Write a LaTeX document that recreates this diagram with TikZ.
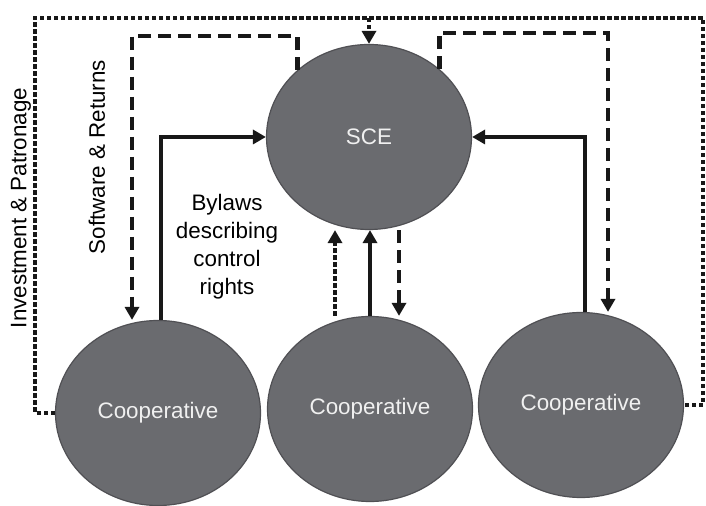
\documentclass[tikz,border=0pt]{standalone}
\usepackage{fontspec}
\setmainfont{Liberation Sans}
\usetikzlibrary{arrows.meta,shapes.geometric}

\definecolor{coopgray}{RGB}{106,107,111}
\definecolor{rimgray}{RGB}{80,80,84}
\definecolor{inkblack}{RGB}{24,24,24}

\begin{document}
\begin{tikzpicture}[x=0.5pt,y=-0.5pt,
  actor/.style={ellipse,draw=rimgray,line width=0.6pt,fill=coopgray,
    text=white!94!black,minimum width=102.5pt,minimum height=92.5pt,
    inner sep=0pt,font=\fontsize{11.2}{14}\selectfont},
  flow/.style={draw=inkblack,line width=2.3pt,-{Triangle[width=7pt,length=6.5pt]}},
  dashflow/.style={flow,dash pattern=on 6.5pt off 3.5pt},
  dotflow/.style={flow,dash pattern=on 2.2pt off 1.3pt},
  caption/.style={font=\fontsize{11.2}{14}\selectfont,align=center}]

\useasboundingbox (0,0) rectangle (706,506);

\node[actor] (sce) at (369,137) {SCE};
\node[actor] (coopL) at (158,413) {Cooperative};
\node[actor] (coopM) at (370,409) {Cooperative};
\node[actor] (coopR) at (581,405) {Cooperative};

\coordinate (outerL) at (35,18);
\coordinate (outerR) at (703,18);
\coordinate (retL) at (132,36);
\coordinate (retR) at (608,33);
\coordinate (upM) at (335,0);
\coordinate (downM) at (399,0);

% investment and patronage
\draw[dotflow,-] (coopL.west) -| (outerL) -- (outerR) |- (coopR.east);
\draw[dotflow] (sce.north |- outerL) -- (sce.north);

% software and returns
\draw[dashflow] (sce.137) |- (retL) -- (retL |- coopL.north);
\draw[dashflow] (sce.44) |- (retR) -- (retR |- coopR.north);
\draw[dashflow] (downM |- sce.south) -- (downM |- coopM.north);

% bylaws
\draw[flow] ([xshift=1.5pt]coopL.north) |- (sce.west);
\draw[flow] ([xshift=2pt]coopR.north) |- (sce.east);
\draw[flow] (coopM.north) -- (coopM.north |- sce.south);
\draw[dotflow] (upM |- coopM.north) -- (upM |- sce.south);

\node[caption] (bylaws) at (227,247) {Bylaws\\describing\\control\\rights};
\node[caption,rotate=90] (invest) at (21,208) {Investment \& Patronage};
\node[caption,rotate=90] (soft) at (97,157) {Software \& Returns};

\end{tikzpicture}
\end{document}
